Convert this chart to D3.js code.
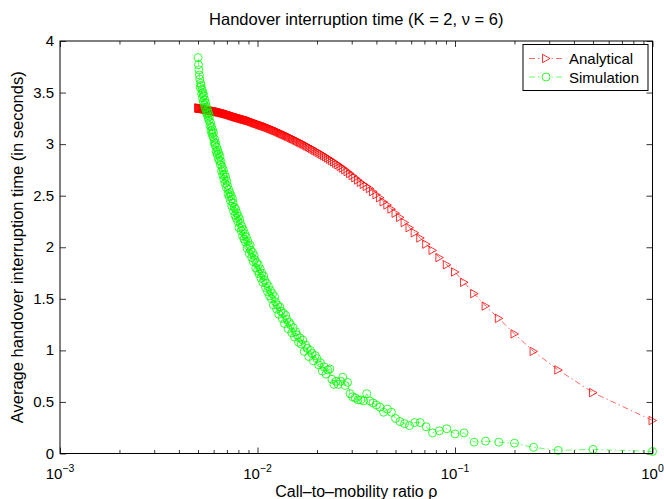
<!DOCTYPE html>
<html>
<head>
<meta charset="utf-8">
<script src="https://cdn.jsdelivr.net/npm/d3@7"></script>
<style>
  body { margin: 0; background: #fff; }
  text { font-family: "Liberation Sans", Arial, Helvetica, sans-serif; fill: #000; }
</style>
</head>
<body>
<div id="container"></div>
<script>
/***** data *****/
// call-to-mobility ratio rho = 1 / N
const rhoDenominator = [
  1,2,3,4,5,6,7,8,9,10,11,12,13,14,15,16,17,18,19,20,
  21,22,23,24,25,26,27,28,29,30,31,32,33,34,35,36,37,38,39,40,
  41,42,43,44,45,46,47,48,49,50,51,52,53,54,55,56,57,58,59,60,
  61,62,63,64,65,66,67,68,69,70,71,72,73,74,75,76,77,78,79,80,
  81,82,83,84,85,86,87,88,89,90,91,92,93,94,95,96,97,98,99,100,
  101,102,103,104,105,106,107,108,109,110,111,112,113,114,115,116,117,118,119,120,
  121,122,123,124,125,126,127,128,129,130,131,132,133,134,135,136,137,138,139,140,
  141,142,143,144,145,146,147,148,149,150,151,152,153,154,155,156,157,158,159,160,
  161,162,163,164,165,166,167,168,169,170,171,172,173,174,175,176,177,178,179,180,
  181,182,183,184,185,186,187,188,189,190,191,192,193,194,195,196,197,198,199,200
];

const analytical = [
  0.32,0.59,0.81,0.99,1.16,1.31,1.43,1.55,1.66,1.76,
  1.83,1.90,1.97,2.03,2.09,2.14,2.19,2.24,2.29,2.33,
  2.37,2.41,2.44,2.48,2.51,2.54,2.57,2.59,2.61,2.63,
  2.652,2.674,2.695,2.715,2.734,2.752,2.769,2.785,2.800,2.814,
  2.828,2.841,2.854,2.866,2.878,2.889,2.900,2.910,2.920,2.930,
  2.939,2.948,2.957,2.966,2.974,2.982,2.990,2.998,3.005,3.012,
  3.019,3.026,3.033,3.040,3.046,3.052,3.058,3.064,3.070,3.076,
  3.082,3.087,3.092,3.097,3.102,3.107,3.112,3.117,3.122,3.127,
  3.131,3.135,3.139,3.143,3.147,3.151,3.155,3.159,3.163,3.167,
  3.170,3.173,3.176,3.179,3.182,3.185,3.188,3.191,3.194,3.197,
  3.20,3.203,3.206,3.209,3.212,3.215,3.218,3.221,3.224,3.227,
  3.229,3.231,3.233,3.235,3.237,3.239,3.241,3.243,3.245,3.247,
  3.249,3.251,3.253,3.255,3.257,3.259,3.261,3.263,3.265,3.267,
  3.269,3.271,3.273,3.275,3.277,3.279,3.281,3.283,3.285,3.287,
  3.289,3.291,3.292,3.294,3.295,3.297,3.298,3.300,3.301,3.303,
  3.304,3.306,3.307,3.309,3.310,3.311,3.312,3.313,3.314,3.315,
  3.316,3.317,3.318,3.319,3.320,3.321,3.322,3.323,3.324,3.325,
  3.326,3.327,3.328,3.329,3.330,3.331,3.332,3.333,3.334,3.335,
  3.336,3.337,3.338,3.339,3.340,3.341,3.342,3.343,3.344,3.345,
  3.345,3.346,3.346,3.347,3.347,3.348,3.348,3.349,3.349,3.350
];

const simulation = [
  0.02,0.04,0.03,0.06,0.10,0.11,0.12,0.11,0.20,0.19,
  0.24,0.22,0.20,0.26,0.30,0.30,0.27,0.29,0.31,0.34,
  0.40,0.43,0.40,0.45,0.47,0.49,0.51,0.58,0.51,0.52,
  0.52,0.54,0.55,0.58,0.69,0.66,0.74,0.70,0.67,0.70,
  0.67,0.72,0.82,0.81,0.77,0.84,0.80,0.88,0.86,0.92,
  0.95,0.90,0.97,1.00,0.94,1.02,1.05,0.99,1.10,1.06,
  1.12,1.08,1.15,1.18,1.13,1.22,1.17,1.25,1.27,1.21,
  1.30,1.34,1.26,1.36,1.31,1.38,1.42,1.35,1.44,1.40,
  1.47,1.52,1.44,1.55,1.50,1.58,1.53,1.62,1.57,1.65,
  1.61,1.68,1.72,1.66,1.75,1.70,1.79,1.74,1.83,1.77,
  1.85,1.80,1.88,1.92,1.86,1.95,1.90,1.97,2.02,1.94,
  2.01,2.06,1.99,2.10,2.05,2.13,2.08,2.17,2.11,2.20,
  2.16,2.23,2.27,2.19,2.30,2.25,2.33,2.28,2.37,2.31,
  2.39,2.35,2.43,2.47,2.40,2.50,2.45,2.53,2.49,2.56,
  2.52,2.60,2.64,2.58,2.68,2.62,2.71,2.66,2.75,2.70,
  2.78,2.74,2.83,2.80,2.88,2.84,2.91,2.86,2.94,2.90,
  2.97,2.93,3.01,2.99,3.05,3.02,3.11,3.07,3.14,3.10,
  3.17,3.13,3.21,3.18,3.27,3.23,3.30,3.26,3.33,3.29,
  3.36,3.31,3.40,3.35,3.43,3.38,3.47,3.41,3.50,3.45,
  3.53,3.49,3.57,3.59,3.55,3.63,3.67,3.72,3.77,3.84
];

const xTickExponents = [-3, -2, -1, 0];
const minorMultipliers = [2, 3, 4, 5, 6, 7, 8, 9];
const yTicks = [0, 0.5, 1, 1.5, 2, 2.5, 3, 3.5, 4];
const seriesNames = ["Analytical", "Simulation"];
const seriesColors = ["#ff0000", "#00ff00"];

/***** chart *****/
const W = 664, H = 499;
const margin = {top: 41, right: 11.5, bottom: 45.5, left: 60};
const width = W - margin.left - margin.right,
      height = H - margin.top - margin.bottom;

const svg = d3.select("#container").append("svg")
    .attr("width", W).attr("height", H);

const g = svg.append("g")
    .attr("transform", "translate(" + margin.left + "," + margin.top + ")");

const x = d3.scaleLog().domain([1e-3, 1]).range([0, width]);
const y = d3.scaleLinear().domain([0, 4]).range([height, 0]);

const majorX = xTickExponents.map(e => Math.pow(10, e));
const minorX = [];
xTickExponents.slice(0, -1).forEach(e => {
  minorMultipliers.forEach(m => minorX.push(m * Math.pow(10, e)));
});

// data rows
const rows = rhoDenominator.map((n, i) => ({rho: 1 / n, a: analytical[i], s: simulation[i]}));

// ticks (inside, on all four sides)
function tickStyle(sel) {
  sel.select(".domain").remove();
  sel.selectAll("line").attr("stroke", "#000").attr("stroke-width", 0.8);
  sel.selectAll("text").remove();
}
g.append("g").attr("transform", "translate(0," + height + ")")
  .call(d3.axisBottom(x).tickValues(majorX).tickSize(-6)).call(tickStyle);
g.append("g").attr("transform", "translate(0," + height + ")")
  .call(d3.axisBottom(x).tickValues(minorX).tickSize(-3.5)).call(tickStyle);
g.append("g")
  .call(d3.axisTop(x).tickValues(majorX).tickSize(-6)).call(tickStyle);
g.append("g")
  .call(d3.axisTop(x).tickValues(minorX).tickSize(-3.5)).call(tickStyle);
g.append("g")
  .call(d3.axisLeft(y).tickValues(yTicks).tickSize(-6)).call(tickStyle);
g.append("g").attr("transform", "translate(" + width + ",0)")
  .call(d3.axisRight(y).tickValues(yTicks).tickSize(-6)).call(tickStyle);

// tick labels
g.selectAll(".ylab").data(yTicks).enter().append("text")
  .attr("x", -6).attr("y", d => y(d) + 5)
  .attr("text-anchor", "end").style("font-size", "15px")
  .text(d => d3.format("")(d));

const xl = g.selectAll(".xlab").data(xTickExponents).enter().append("text")
  .attr("x", d => x(Math.pow(10, d)))
  .attr("y", height + 25)
  .attr("text-anchor", "middle").style("font-size", "15px");
xl.append("tspan").text("10");
xl.append("tspan").attr("dy", -7).style("font-size", "10.5px")
  .text(d => d < 0 ? "\u2212" + (-d) : String(d));

// lines
const lineA = d3.line().x(d => x(d.rho)).y(d => y(d.a));
const lineS = d3.line().x(d => x(d.rho)).y(d => y(d.s));

g.append("path").datum(rows)
  .attr("fill", "none").attr("stroke", seriesColors[0]).attr("stroke-width", 0.6)
  .attr("stroke-dasharray", "6,3,1.5,3").attr("d", lineA);

const tri = "M-3.5,-4.2L4,0L-3.5,4.2Z";
g.selectAll(".ma").data(rows).enter().append("path")
  .attr("d", tri)
  .attr("transform", d => "translate(" + x(d.rho) + "," + y(d.a) + ")")
  .attr("fill", "none").attr("stroke", seriesColors[0]).attr("stroke-width", 0.8);

g.append("path").datum(rows)
  .attr("fill", "none").attr("stroke", seriesColors[1]).attr("stroke-width", 0.6)
  .attr("stroke-dasharray", "6,3,1.5,3").attr("d", lineS);

g.selectAll(".ms").data(rows).enter().append("circle")
  .attr("cx", d => x(d.rho)).attr("cy", d => y(d.s)).attr("r", 4)
  .attr("fill", "none").attr("stroke", seriesColors[1]).attr("stroke-width", 0.8);

// box
g.append("rect").attr("width", width).attr("height", height)
  .attr("fill", "none").attr("stroke", "#000").attr("stroke-width", 1);

// legend
const lg = g.append("g").attr("transform", "translate(" + (523 - margin.left) + "," + (44.5 - margin.top) + ")");
lg.append("rect").attr("width", 125).attr("height", 46)
  .attr("fill", "#fff").attr("stroke", "#000").attr("stroke-width", 1);
seriesNames.forEach((name, i) => {
  const yy = 14 + i * 18.5;
  lg.append("line").attr("x1", 6).attr("x2", 40).attr("y1", yy).attr("y2", yy)
    .attr("stroke", seriesColors[i]).attr("stroke-width", 0.6)
    .attr("stroke-dasharray", "6,3,1.5,3");
  if (i === 0) {
    lg.append("path").attr("d", tri).attr("transform", "translate(23," + yy + ")")
      .attr("fill", "#fff").attr("stroke", seriesColors[i]).attr("stroke-width", 0.8);
  } else {
    lg.append("circle").attr("cx", 23).attr("cy", yy).attr("r", 4)
      .attr("fill", "#fff").attr("stroke", seriesColors[i]).attr("stroke-width", 0.8);
  }
  lg.append("text").attr("x", 46).attr("y", yy + 5.5)
    .style("font-size", "15px").text(name);
});

// titles
svg.append("text").attr("x", margin.left + width / 2).attr("y", 25)
  .attr("text-anchor", "middle").style("font-size", "16.5px")
  .text("Handover interruption time (K = 2, \u03bd = 6)");

svg.append("text").attr("x", margin.left + width / 2).attr("y", 497)
  .attr("text-anchor", "middle").style("font-size", "16px")
  .text("Call\u2013to\u2013mobility ratio \u03c1");

svg.append("text")
  .attr("transform", "translate(23," + (margin.top + height / 2) + ") rotate(-90)")
  .attr("text-anchor", "middle").style("font-size", "16.5px")
  .text("Average handover interruption time (in seconds)");
</script>
</body>
</html>
